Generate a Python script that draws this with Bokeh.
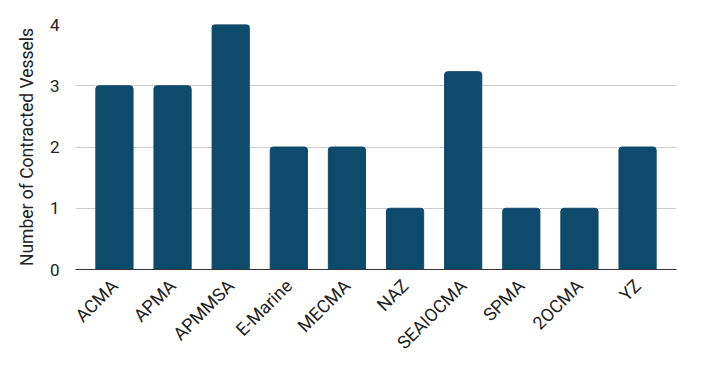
import math
from bokeh.plotting import figure
from bokeh.models import FactorRange, Range1d, FixedTicker
from bokeh.embed import file_html
from bokeh.resources import INLINE

categories = ["ACMA", "APMA", "APMMSA", "E-Marine", "MECMA", "NAZ", "SEAIOCMA", "SPMA", "2OCMA", "YZ"]
vessels = [3, 3, 4, 2, 2, 1, 3.23, 1, 1, 2]

p = figure(width=706, height=367, output_backend="svg", toolbar_location=None,
           x_range=FactorRange(*categories, range_padding=0.034),
           y_range=Range1d(0, 4),
           min_border_left=75, min_border_right=30, min_border_top=24, min_border_bottom=98)
p.outline_line_color = None
p.vbar(x=categories, top=vessels, width=0.64, color="#0e4a6b", border_radius=(3, 3, 0, 0))

p.yaxis.ticker = FixedTicker(ticks=[0, 1, 2, 3, 4])
p.yaxis.axis_line_color = None
p.yaxis.major_tick_line_color = None
p.yaxis.minor_tick_line_color = None
p.yaxis.major_label_text_font = "Roboto"
p.yaxis.major_label_text_font_size = "17px"
p.yaxis.major_label_text_color = "#222222"
p.yaxis.major_label_standoff = 10
p.yaxis.axis_label = "Number of Contracted Vessels"
p.yaxis.axis_label_text_font = "Roboto"
p.yaxis.axis_label_text_font_style = "normal"
p.yaxis.axis_label_text_font_size = "17.5px"
p.yaxis.axis_label_text_color = "#222222"
p.yaxis.axis_label_standoff = 10

p.xaxis.axis_line_color = "#333333"
p.xaxis.major_tick_line_color = None
p.xaxis.minor_tick_line_color = None
p.xaxis.major_label_orientation = math.pi / 4
p.xaxis.major_label_text_font = "Roboto"
p.xaxis.major_label_text_font_size = "18px"
p.xaxis.major_label_text_color = "#222222"
p.xaxis.major_label_standoff = 7

p.xgrid.grid_line_color = None
p.ygrid.grid_line_color = "#cccccc"

open("out.html", "w").write(file_html(p, INLINE))
